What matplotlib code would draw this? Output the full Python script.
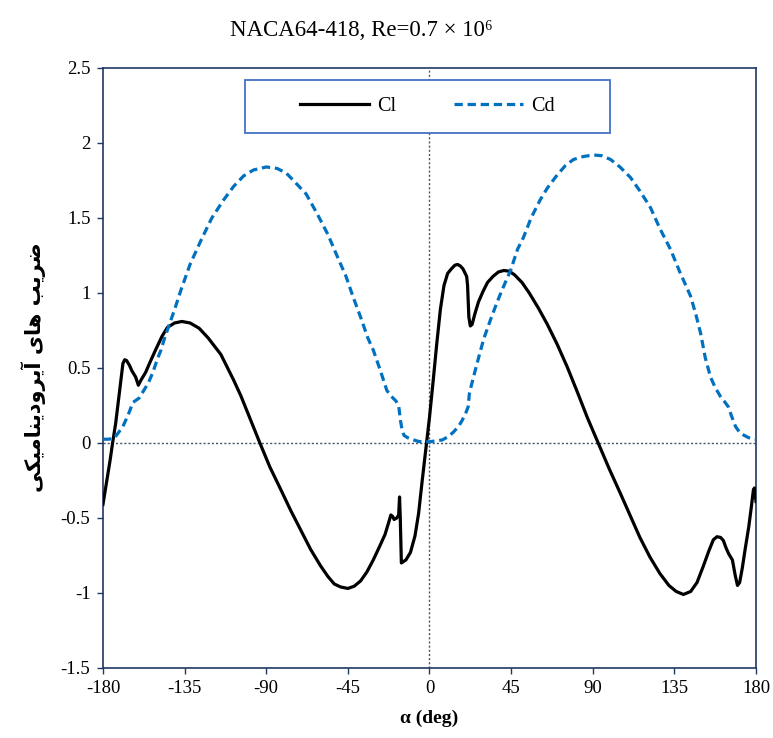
import matplotlib
matplotlib.use("Agg")
import matplotlib.pyplot as plt
from matplotlib.patches import Rectangle

# ===============================
# Data
# ===============================
alpha_cl = [-180, -178, -176, -174.7, -173, -171.4, -170, -169, -168, -167, -165.5,
            -164, -162, -160.5, -159, -156.5, -154, -151, -147.5, -144.5, -140.5,
            -136.5, -132, -127, -122, -115, -108, -104, -100, -93.5, -88, -82,
            -76.5, -71, -65.5, -60, -56, -52.5, -49, -45, -41.5, -38, -34.5, -31,
            -27.5, -24.5, -22.5, -21.3, -20.3, -19.5, -18, -17, -16.5, -16.1,
            -15.5, -13, -10.5, -8, -6, -4, -2, 0, 2, 4, 6, 8, 10, 12, 14, 15.5,
            17, 18.5, 20.5, 21, 21.7, 22.5, 23.5, 25, 27, 29.5, 32, 35, 38, 41,
            44, 47, 51, 55, 60, 65, 70.5, 76, 81.5, 87, 93, 99, 105, 110.5, 116,
            121.5, 127, 132, 136, 140, 144, 147.5, 151, 154, 156.5, 158.5, 160.5,
            162, 163.5, 165, 167, 168.5, 169.8, 171, 172.5, 174, 176, 177.5,
            178.6, 179.2, 180]
cl = [-0.41, -0.26, -0.11, 0.0, 0.13, 0.29, 0.43, 0.53, 0.555, 0.55, 0.52,
      0.48, 0.44, 0.385, 0.42, 0.47, 0.54, 0.62, 0.71, 0.77, 0.80,
      0.81, 0.80, 0.765, 0.70, 0.59, 0.42, 0.315, 0.195, 0.0, -0.16, -0.31,
      -0.45, -0.58, -0.71, -0.82, -0.89, -0.94, -0.96, -0.97, -0.955, -0.92, -0.86, -0.78,
      -0.69, -0.61, -0.53, -0.48, -0.49, -0.51, -0.50, -0.48, -0.36, -0.50,
      -0.80, -0.78, -0.73, -0.62, -0.47, -0.25, -0.04, 0.17, 0.41, 0.66, 0.89, 1.05, 1.13, 1.16, 1.185, 1.19,
      1.18, 1.16, 1.11, 1.05, 0.84, 0.78, 0.79, 0.86, 0.94, 1.01, 1.07, 1.11, 1.14, 1.15,
      1.145, 1.12, 1.07, 1.0, 0.90, 0.79, 0.655, 0.505, 0.34, 0.17, 0.0, -0.17, -0.33, -0.48, -0.63,
      -0.76, -0.87, -0.95, -0.99, -1.01, -0.99, -0.93, -0.82, -0.72, -0.645, -0.625, -0.63,
      -0.65, -0.70, -0.74, -0.78, -0.88, -0.95, -0.93, -0.83, -0.71, -0.56, -0.42,
      -0.31, -0.30, -0.39]

alpha_cd = [-180, -177, -174, -172, -169, -166, -163.5, -160, -157, -155, -152.5,
            -150, -148, -146, -144, -140.5, -137, -132, -126, -120, -113.5, -108,
            -102.5, -97, -90, -84, -79, -75, -68, -62, -56, -50.7, -46, -42, -38,
            -34, -31, -27, -23.5, -21, -18.5, -17, -16, -15, -14, -12, -10, -6, -2,
            0, 4, 7, 10, 13, 16, 18, 20, 21.3, 22, 23, 26, 29.8, 33.6, 37, 40, 44.7,
            48.5, 51.8, 56, 61, 65, 70.6, 75, 79.4, 85, 90.4, 95, 99.8, 105, 110.8,
            116, 121.8, 127, 132.9, 138, 143.9, 147, 149.5, 152, 154.9, 157.5, 160.4,
            163, 164.8, 166.5, 168.7, 171, 173.1, 176, 180]
cd = [0.025, 0.025, 0.03, 0.06, 0.11, 0.19, 0.27, 0.30, 0.36, 0.40, 0.47,
      0.56, 0.62, 0.70, 0.77, 0.89, 1.02, 1.19, 1.35, 1.50, 1.62, 1.71,
      1.78, 1.82, 1.84, 1.83, 1.80, 1.75, 1.66, 1.53, 1.39, 1.24, 1.11, 0.97, 0.84,
      0.70, 0.62, 0.48, 0.35, 0.31, 0.28, 0.25, 0.15, 0.08, 0.05, 0.035, 0.025, 0.01, 0.008,
      0.008, 0.015, 0.02, 0.04, 0.07, 0.11, 0.15, 0.20, 0.24, 0.33, 0.38, 0.52, 0.69, 0.82, 0.93, 1.02, 1.15,
      1.29, 1.37, 1.50, 1.62, 1.70, 1.79, 1.85, 1.89, 1.91, 1.92, 1.915, 1.89, 1.84, 1.77,
      1.68, 1.57, 1.43, 1.29, 1.14, 0.98, 0.85, 0.73, 0.57, 0.44, 0.37, 0.31,
      0.27, 0.24, 0.18, 0.11, 0.07, 0.053, 0.035, 0.025]

x_ticks = [-180, -135, -90, -45, 0, 45, 90, 135, 180]
y_ticks = [-1.5, -1, -0.5, 0, 0.5, 1, 1.5, 2, 2.5]
y_tick_labels = ["-1.5", "-1", "-0.5", "0", "0.5", "1", "1.5", "2", "2.5"]

title = "NACA64-418, Re=0.7 \u00d7 10\u2076"
x_label = "\u03b1 (deg)"
# "ضریب های آیرودینامیکی" written in shaped (presentation) forms, visual order
y_label = ("\uFBFD\uFB91\uFBFF\uFEE3\uFE8E\uFEE8\uFBFE\uFEA9\uFEED\uFEAE\uFBFE\uFE81"
           " \uFBFC\uFE8E\uFEEB"
           " \uFE90\uFBFE\uFEAE\uFEBF")

SERIF = ["Liberation Serif", "DejaVu Serif"]
SPINE = "#203864"
BLUE = "#0070C0"

plt.rcParams["axes.unicode_minus"] = False

# ===============================
# Figure
# ===============================
fig = plt.figure(figsize=(7.73, 7.38), dpi=100)
ax = fig.add_axes([0.1332, 0.0949, 0.8448, 0.813])

ax.axhline(0, color="#44546A", lw=1.0, ls=(0, (1.5, 1.5)), zorder=1)
ax.axvline(0, color="#44546A", lw=1.0, ls=(0, (1.5, 1.5)), zorder=1)

ax.plot(alpha_cl, cl, color="black", lw=2.3, label="Cl", zorder=3)
ax.plot(alpha_cd, cd, color=BLUE, lw=2.3, ls=(0, (2.6, 1.5)), label="Cd", zorder=3)

ax.set_xlim(-180, 180)
ax.set_ylim(-1.5, 2.5)
ax.set_xticks(x_ticks)
ax.set_xticklabels([str(t) for t in x_ticks])
ax.set_yticks(y_ticks)
ax.set_yticklabels(y_tick_labels)
for lab in ax.get_xticklabels() + ax.get_yticklabels():
    lab.set_family(SERIF)
    lab.set_fontsize(13.5)
ax.tick_params(length=4, color=SPINE, width=1, pad=5)
for s in ax.spines.values():
    s.set_color(SPINE)
    s.set_linewidth(1.2)

# legend box
ax.add_patch(Rectangle((0.2175, 0.892), 0.5585, 0.088, transform=ax.transAxes,
                       facecolor="white", edgecolor="#4472C4", lw=1.3, zorder=5))
leg = ax.legend(loc="center", bbox_to_anchor=(0.4967, 0.936), ncol=2, frameon=False,
                prop={"family": SERIF, "size": 14.5}, handlelength=3.4,
                handletextpad=0.4, columnspacing=2.9)
leg.set_zorder(6)

fig.text(0.468, 0.958, title, ha="center", va="center", family=SERIF, fontsize=16.5)
fig.text(0.555, 0.027, x_label, ha="center", va="center", family=SERIF,
         fontsize=14, fontweight="bold")
fig.text(0.043, 0.502, y_label, ha="center", va="center", rotation=90,
         family=["DejaVu Sans"], fontsize=15, fontweight="bold")

fig.savefig("out.png", dpi=100)
